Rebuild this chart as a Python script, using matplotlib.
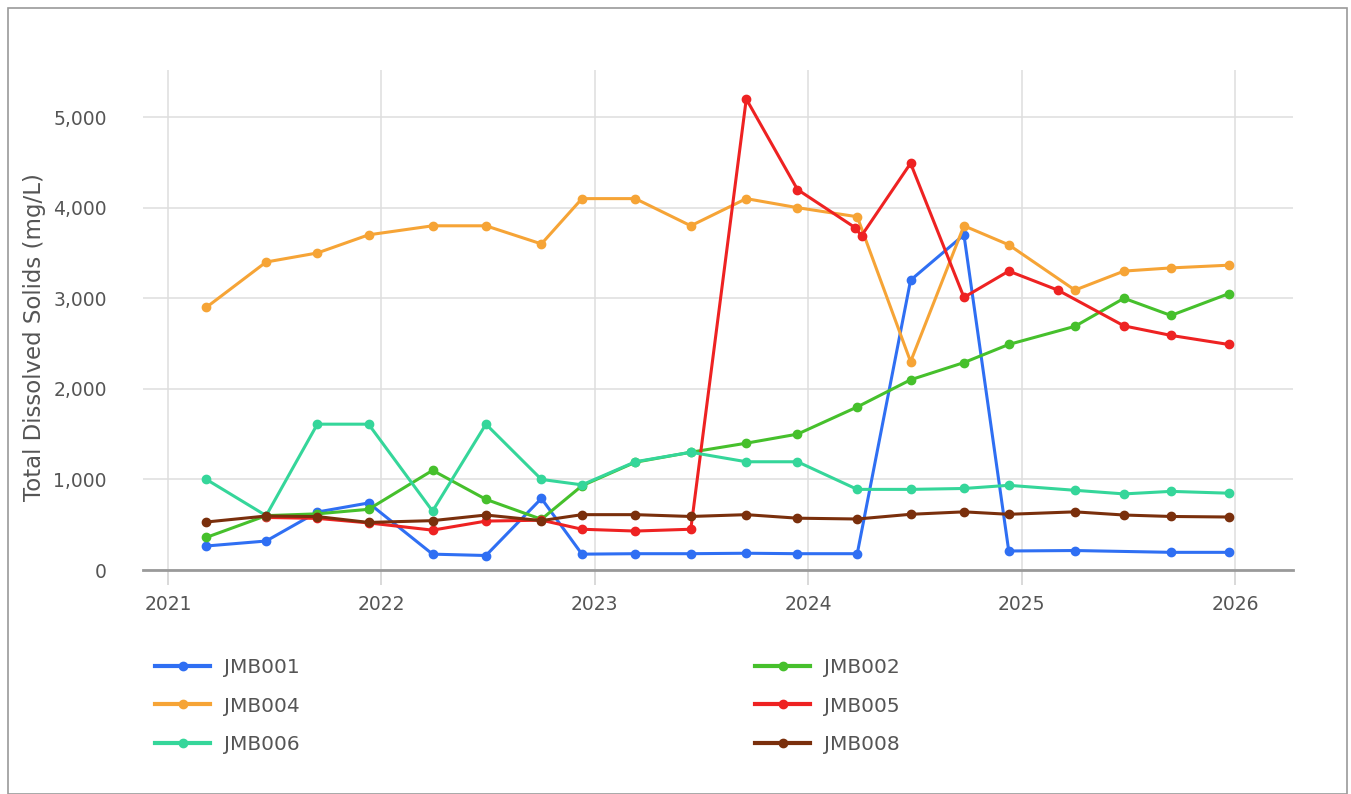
import matplotlib
matplotlib.use("Agg")
import matplotlib.pyplot as plt
from matplotlib.lines import Line2D
from matplotlib.patches import Rectangle
from matplotlib.ticker import FuncFormatter

# ---- data (decimal years, mg/L) ----
jmb001_x = [2021.18, 2021.46, 2021.70, 2021.94, 2022.24, 2022.49, 2022.75, 2022.94, 2023.19, 2023.45,
            2023.71, 2023.95, 2024.23, 2024.48, 2024.73, 2024.94, 2025.25, 2025.70, 2025.97]
jmb001_y = [265, 320, 640, 740, 175, 160, 790, 175, 180, 180,
            185, 180, 180, 3200, 3700, 210, 215, 195, 195]

jmb002_x = [2021.18, 2021.46, 2021.70, 2021.94, 2022.24, 2022.49, 2022.75, 2022.94, 2023.19, 2023.45,
            2023.71, 2023.95, 2024.23, 2024.48, 2024.73, 2024.94, 2025.25, 2025.48, 2025.70, 2025.97]
jmb002_y = [360, 600, 620, 670, 1100, 780, 560, 930, 1190, 1300,
            1400, 1500, 1800, 2100, 2290, 2490, 2690, 3000, 2810, 3050]

jmb004_x = [2021.18, 2021.46, 2021.70, 2021.94, 2022.24, 2022.49, 2022.75, 2022.94, 2023.19, 2023.45,
            2023.71, 2023.95, 2024.23, 2024.48, 2024.73, 2024.94, 2025.25, 2025.48, 2025.70, 2025.97]
jmb004_y = [2900, 3400, 3500, 3700, 3800, 3800, 3600, 4100, 4100, 3800,
            4100, 4000, 3900, 2300, 3800, 3590, 3090, 3300, 3335, 3365]

jmb005_x = [2021.46, 2021.70, 2021.94, 2022.24, 2022.49, 2022.75, 2022.94, 2023.19, 2023.45,
            2023.71, 2023.95, 2024.22, 2024.25, 2024.48, 2024.73, 2024.94, 2025.17, 2025.48, 2025.70, 2025.97]
jmb005_y = [580, 570, 520, 440, 540, 550, 450, 430, 450,
            5200, 4200, 3780, 3690, 4490, 3010, 3300, 3090, 2695, 2590, 2490]

jmb006_x = [2021.18, 2021.46, 2021.70, 2021.94, 2022.24, 2022.49, 2022.75, 2022.94, 2023.19, 2023.45,
            2023.71, 2023.95, 2024.23, 2024.48, 2024.73, 2024.94, 2025.25, 2025.48, 2025.70, 2025.97]
jmb006_y = [1000, 600, 1610, 1610, 650, 1610, 1000, 940, 1195, 1300,
            1195, 1195, 890, 890, 900, 935, 880, 840, 868, 848]

jmb008_x = [2021.18, 2021.46, 2021.70, 2021.94, 2022.24, 2022.49, 2022.75, 2022.94, 2023.19, 2023.45,
            2023.71, 2023.95, 2024.23, 2024.48, 2024.73, 2024.94, 2025.25, 2025.48, 2025.70, 2025.97]
jmb008_y = [530, 596, 590, 525, 545, 607, 545, 611, 611, 591,
            611, 572, 563, 615, 642, 615, 642, 607, 591, 585]

series_names = ["JMB001", "JMB002", "JMB004", "JMB005", "JMB006", "JMB008"]
series_x = [jmb001_x, jmb002_x, jmb004_x, jmb005_x, jmb006_x, jmb008_x]
series_y = [jmb001_y, jmb002_y, jmb004_y, jmb005_y, jmb006_y, jmb008_y]
colors = ["#2f6ff3", "#46c02c", "#f6a436", "#ee2222", "#35d69a", "#7a2f0c"]

x_ticks = [2021, 2022, 2023, 2024, 2025, 2026]
y_ticks = [0, 1000, 2000, 3000, 4000, 5000]

plt.rcParams['font.family'] = ['DejaVu Sans']
fig = plt.figure(figsize=(13.51, 7.94), dpi=100)
fig.patch.set_facecolor("white")
ax = fig.add_axes([143/1351, 1-570/794, 1150/1351, 500/794])

for name, xs, ys, c in zip(series_names, series_x, series_y, colors):
    ax.plot(xs, ys, color=c, lw=2.2, marker="o", ms=6, mec=c, mfc=c, label=name,
            solid_joinstyle="round")

ax.set_xlim(2020.883, 2026.272)
ax.set_ylim(0, 5520)
ax.set_xticks(x_ticks)
ax.set_yticks(y_ticks)
ax.yaxis.set_major_formatter(FuncFormatter(lambda v, p: f"{int(v):,}"))
ax.grid(True, color="#dedede", lw=1.1)
ax.set_axisbelow(True)
for s in ["top", "right", "left"]:
    ax.spines[s].set_visible(False)
ax.spines["bottom"].set_color("#9a9a9a")
ax.spines["bottom"].set_linewidth(2)
ax.tick_params(axis="x", length=11, width=1.1, color="#d0d0d0", pad=7,
               labelsize=13.5, labelcolor="#555555")
ax.tick_params(axis="y", length=0, pad=26, labelsize=13.5, labelcolor="#555555")
ax.set_ylabel("Total Dissolved Solids (mg/L)", fontsize=16.5, color="#555555")
ax.yaxis.set_label_coords(-0.0844, 0.465)

def mk(name):
    c = colors[series_names.index(name)]
    return Line2D([], [], color=c, lw=3, marker="o", ms=6, mfc=c, mec=c)

col1 = ["JMB001", "JMB004", "JMB006"]
col2 = ["JMB002", "JMB005", "JMB008"]
for col, xpos in [(col1, 155/1351), (col2, 755/1351)]:
    fig.legend([mk(n) for n in col], col, loc="upper left",
               bbox_to_anchor=(xpos, 1-658/794), frameon=False,
               handlelength=2.75, handletextpad=0.7, labelspacing=0.97,
               fontsize=14.5, labelcolor="#555555", borderaxespad=0,
               borderpad=0)

fig.add_artist(Rectangle((8/1351, 0), 1339/1351, 1-8/794, transform=fig.transFigure,
                         fill=False, edgecolor="#9a9a9a", lw=1.2))

fig.savefig("out.png", dpi=100)
